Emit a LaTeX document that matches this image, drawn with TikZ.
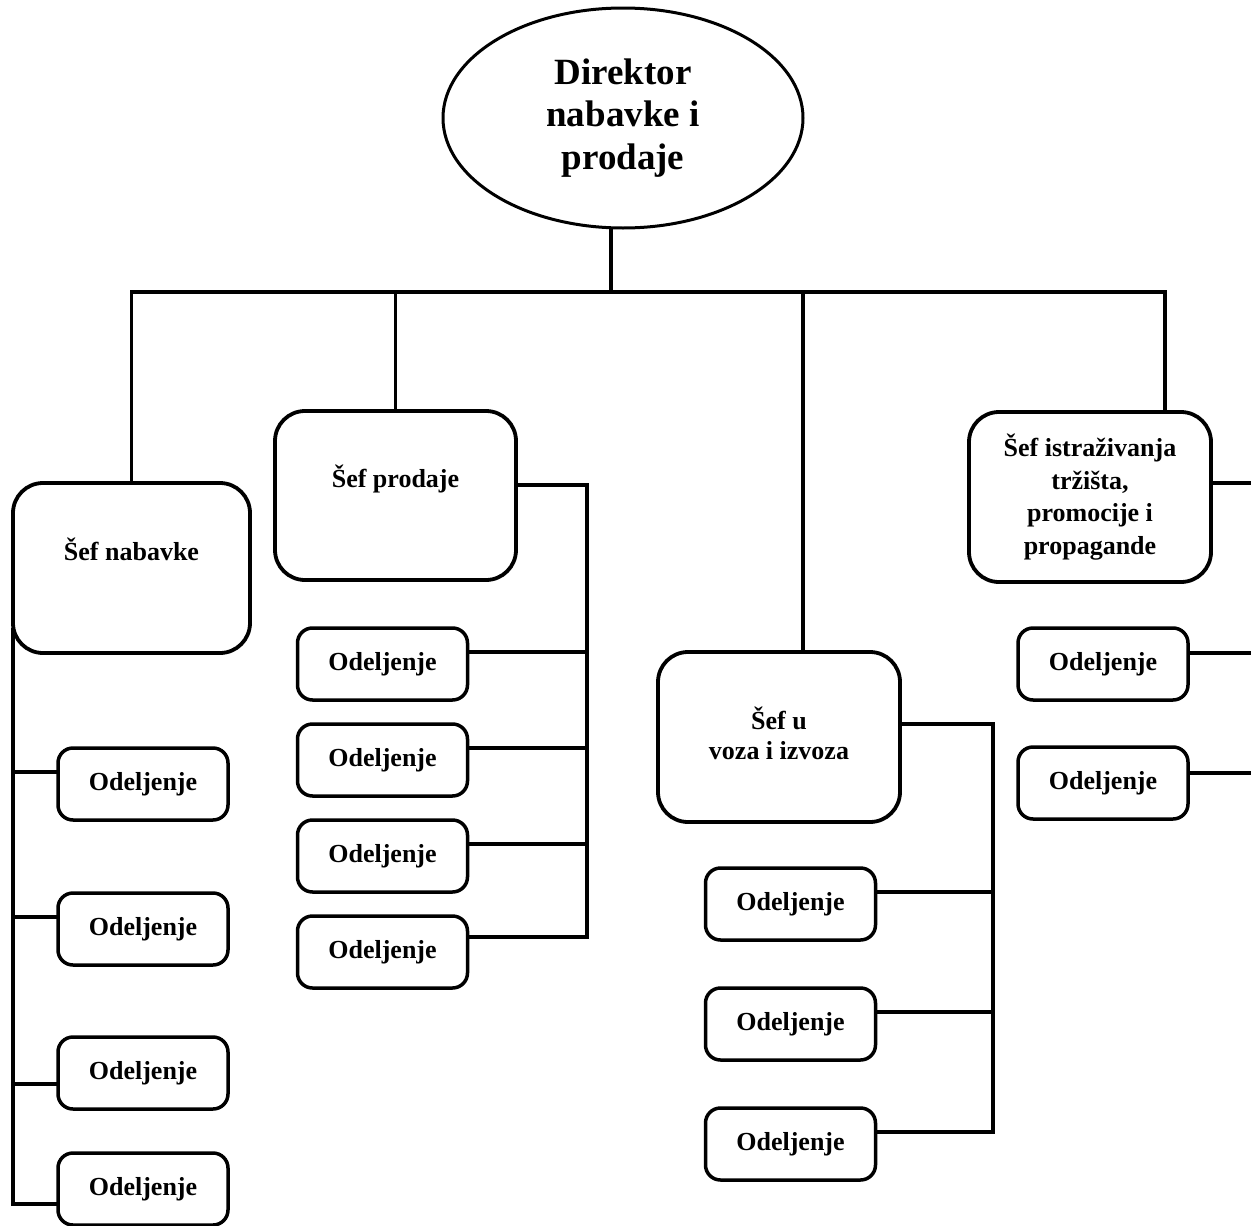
\documentclass[tikz,border=0pt]{standalone}
\usepackage{fontspec}
\setmainfont{Liberation Serif}
\usetikzlibrary{shapes.geometric}
\begin{document}
\begin{tikzpicture}[x=1pt,y=-1pt,
  conn/.style={line width=3.5pt},
  chief/.style={draw, line width=3.8pt, rounded corners=30pt, inner sep=0pt,
    outer sep=0pt, minimum width=242pt, minimum height=170pt, align=center,
    font=\bfseries\fontsize{26}{32.5}\selectfont},
  lbl/.style={inner sep=0pt, align=center, font=\bfseries\fontsize{26}{30}\selectfont},
  dept/.style={draw, line width=3.5pt, rounded corners=15pt, inner sep=0pt,
    outer sep=0pt, minimum width=170pt, minimum height=72pt,
    font=\bfseries\fontsize{26}{30}\selectfont},
  head/.style={ellipse, draw, line width=3pt, inner sep=0pt, outer sep=0pt,
    minimum width=360pt, minimum height=220pt, align=center,
    font=\bfseries\fontsize{37}{42.5}\selectfont}
]
\path[use as bounding box, fill=white] (0,0) rectangle (1251,1226);

% director
\node[head] (dir) at (623,118) {Direktor\\nabavke i\\prodaje};

% department heads
\node[chief, minimum width=237pt,
  label={[lbl, yshift=19pt]center:Šef nabavke}] (nab) at (131.5,568) {};
\node[chief, minimum width=241pt, minimum height=169pt,
  label={[lbl, yshift=17pt]center:Šef prodaje}] (prod) at (395.5,495.5) {};
\node[chief, label={[lbl, yshift=4pt]center:Šef u\\voza i izvoza}] (voz) at (779,737) {};
\node[chief] (ist) at (1090,497) {Šef istraživanja\\tržišta,\\promocije i\\propagande};

% departments
\node[dept] (nab1) at (143,784)  {Odeljenje};
\node[dept] (nab2) at (143,929)  {Odeljenje};
\node[dept] (nab3) at (143,1073) {Odeljenje};
\node[dept] (nab4) at (143,1189) {Odeljenje};

\node[dept] (pro1) at (382.5,664) {Odeljenje};
\node[dept] (pro2) at (382.5,760) {Odeljenje};
\node[dept] (pro3) at (382.5,856) {Odeljenje};
\node[dept] (pro4) at (382.5,952) {Odeljenje};

\node[dept] (voz1) at (790.5,904)  {Odeljenje};
\node[dept] (voz2) at (790.5,1024) {Odeljenje};
\node[dept] (voz3) at (790.5,1144) {Odeljenje};

\node[dept] (ist1) at (1103,664) {Odeljenje};
\node[dept] (ist2) at (1103,783) {Odeljenje};

% top level bus
\coordinate (hub)   at (611,292);
\coordinate (busR)  at (1165,292);
\coordinate (vdrop) at (803,292);
\draw[conn] (hub |- dir.south) -- (hub);
\draw[conn] (nab.north) |- (busR) -- (busR |- ist.north);
\draw[conn] (prod.north |- hub) -- (prod.north);
\draw[conn] (vdrop) -- (vdrop |- voz.north);

% purchasing
\draw[conn] ([yshift=-60pt]nab.west) |- ([yshift=-15pt]nab4.west);
\foreach \n/\s in {nab1/12, nab2/12, nab3/-11}
  \draw[conn] ([yshift=-60pt]nab.west) |- ([yshift=\s pt]\n.west);

% sales
\coordinate (pbus) at (587,485);
\draw[conn] (prod.east |- pbus) -- (pbus) |- ([yshift=15pt]pro4.east);
\foreach \n in {pro1, pro2, pro3}
  \draw[conn] (pbus) |- ([yshift=12pt]\n.east);

% import / export
\coordinate (vbus) at (993,724);
\draw[conn] (voz.east |- vbus) -- (vbus) |- ([yshift=12pt]voz3.east);
\foreach \n in {voz1, voz2}
  \draw[conn] (vbus) |- ([yshift=12pt]\n.east);

% market research
\draw[conn] ([yshift=14pt]ist.east) -- +(45,0);
\draw[conn] ([yshift=11pt]ist1.east) -- +(70,0);
\draw[conn] ([yshift=10pt]ist2.east) -- +(70,0);
\end{tikzpicture}
\end{document}
